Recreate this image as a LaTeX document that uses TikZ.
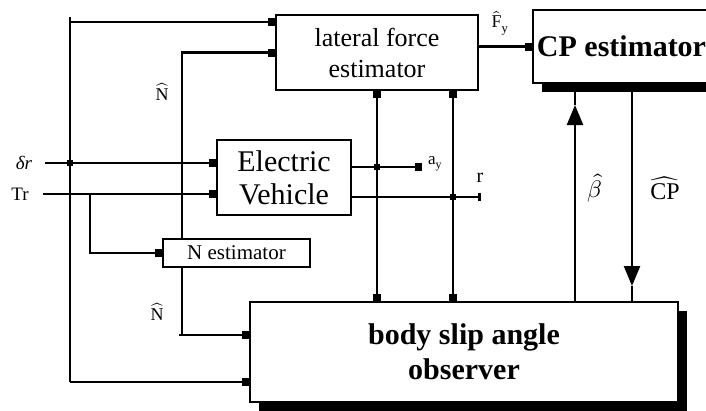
\documentclass[tikz,border=0pt]{standalone}
\usepackage{fontspec}
\usepackage{unicode-math}
\setmainfont{Liberation Serif}
\setmathfont{Latin Modern Math}
\usetikzlibrary{arrows.meta,shadows}
\begin{document}
\begin{tikzpicture}[x=1pt,y=-1pt, line width=2.4pt,
  box/.style={draw, fill=white, inner sep=0pt, align=center},
  sq/.style={-{Square[length=7pt,width=8pt]}},
  sqs/.style={{Square[length=7pt,width=8pt]}-{Square[length=7pt,width=8pt]}},
  bigtri/.style={-{Triangle[length=20pt,width=16pt]}},
  dot/.style={fill, rectangle, inner sep=0pt, minimum size=6pt},
  lbl/.style={inner sep=0pt},
  shad/.style={drop shadow={shadow xshift=9pt, shadow yshift=-9pt, fill=black, opacity=1}}]
\clip (0,0) rectangle (706,410);
\fill[white] (0,0) rectangle (706,410);

% blocks
\node[box, minimum width=202pt, minimum height=75pt, font=\fontsize{26}{31}\selectfont] (lfe) at (377,52.5) {lateral force\\estimator};
\node[box, shad, minimum width=177pt, minimum height=73pt, font=\bfseries\fontsize{30}{34}\selectfont] (cpe) at (621.5,46.5) {CP estimator};
\node[box, minimum width=134pt, minimum height=75pt, font=\fontsize{30}{33}\selectfont] (ev) at (284,177.5) {Electric\\Vehicle};
\node[box, minimum width=147pt, minimum height=28pt, font=\fontsize{21}{24}\selectfont] (nest) at (236.5,253) {N estimator};
\node[box, shad, minimum width=428pt, minimum height=100pt, font=\bfseries\fontsize{30}{35}\selectfont] (bso) at (464,352) {body slip angle\\observer};

% input labels
\node[lbl, font=\fontsize{19}{20}\selectfont] (dl) at (24,163) {\textit{δr}};
\node[lbl, font=\fontsize{19}{20}\selectfont] (tr) at (20,194) {Tr};

% helper coordinates
\coordinate (jd) at (70,163);
\coordinate (tl) at (70,22);
\coordinate (bl) at (70,382);
\coordinate (tb) at (90,194);
\coordinate (nx) at (182,0);
\coordinate (nb) at (182,335);
\coordinate (ja) at (377,167);
\coordinate (jr) at (453,197);
\coordinate (ae) at (422,167);
\coordinate (re) at (481,197);
\coordinate (bt) at (575,105);
\coordinate (ct) at (632,286);

% inputs
\draw[sq] ([xshift=12pt]dl.east) -- (dl -| ev.west);
\draw[sq] ([xshift=13pt]tr.east) -- (tr -| ev.west);
\draw ([yshift=5pt]tl) -- (bl);
\draw[sq] (tl) -- (tl -| lfe.west);
\draw[sq] (bl) -- (bl -| bso.west);
\node[dot] at (jd) {};
\draw[sq] (tb) |- (nest.west);

% N estimator outputs
\draw[sq] (nest.north -| nx) |- (lfe.west);
\draw (nest.south -| nx) -- (nb);
\draw[sq] ([xshift=-3pt]nb) -- (nb -| bso.west);

% vehicle outputs
\draw[sq] (ev.east |- ja) -- (ae);
\draw[-{Square[length=3pt,width=8pt]}] (ev.east |- jr) -- (re);
\node[dot] at (ja) {};
\node[dot] at (jr) {};
\draw[sqs] (lfe.south -| ja) -- (bso.north -| ja);
\draw[sqs] (lfe.south -| jr) -- (bso.north -| jr);

% lateral force to CP estimator
\draw[sq] (lfe.east |- cpe.west) -- (cpe.west);

% beta and CP
\draw[bigtri] (bso.north -| bt) -- (bt);
\draw (bt) -- (cpe.south -| bt);
\draw[bigtri] (cpe.south -| ct) -- (ct);
\draw (ct) -- (bso.north -| ct);

% signal labels
\node[lbl, font=\fontsize{18}{20}\selectfont] (nh1) at (162,92) {$\widehat{\mathrm{N}}$};
\node[lbl, font=\fontsize{18}{20}\selectfont] (nh2) at (157,312) {$\widehat{\mathrm{N}}$};
\node[lbl, font=\fontsize{18}{20}\selectfont] (fy) at (500,23) {$\widehat{\mathrm{F}}_{\mathrm{y}}$};
\node[lbl, font=\fontsize{17}{20}\selectfont] (ayl) at (435,164) {$\mathrm{a}_{\mathrm{y}}$};
\node[lbl, font=\fontsize{20}{22}\selectfont] (rl) at (480,178) {r};
\node[lbl, font=\fontsize{24}{26}\selectfont] (betal) at (595,188) {$\hat{\beta}$};
\node[lbl, font=\fontsize{24}{26}\selectfont] (cpl) at (665,188) {$\widehat{\mathrm{CP}}$};
\end{tikzpicture}
\end{document}
